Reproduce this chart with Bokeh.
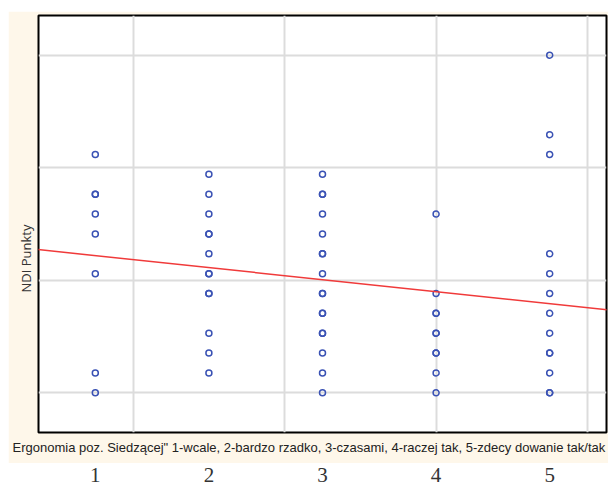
from bokeh.plotting import figure
from bokeh.layouts import column
from bokeh.models import FixedTicker, Slope, Range1d, ColumnDataSource, Title
from bokeh.core.properties import value
from bokeh.embed import file_html
from bokeh.resources import INLINE

# ---- data ----
categories = [1, 2, 3, 4, 5]
tick_labels = ["1", "2", "3", "4", "5"]
ndi_cat1 = [12, 10, 10, 9, 8, 6, 1, 0]
ndi_cat2 = [11, 10, 9, 8, 8, 7, 6, 6, 5, 5, 3, 2, 1]
ndi_cat3 = [11, 10, 10, 9, 8, 7, 7, 6, 5, 5, 4, 4, 3, 3, 2, 1, 0]
ndi_cat4 = [9, 5, 4, 4, 3, 3, 2, 2, 1, 0]
ndi_cat5 = [17, 13, 12, 7, 6, 5, 4, 3, 2, 2, 1, 0, 0]
trend_intercept = 7.51
trend_slope = -0.604
x_grid_values = [4 / 3, 8 / 3, 4, 16 / 3]
y_grid_values = [0, 17 / 3, 34 / 3, 17]
x_title = 'Ergonomia poz. Siedzącej" 1-wcale, 2-bardzo rzadko, 3-czasami, 4-raczej tak, 5-zdecy dowanie tak/tak'
y_title = "NDI Punkty"

xs, ys = [], []
for c, vals in zip(categories, [ndi_cat1, ndi_cat2, ndi_cat3, ndi_cat4, ndi_cat5]):
    xs += [c] * len(vals)
    ys += vals
src = ColumnDataSource(dict(x=xs, y=ys))

CREAM = "#fef7ea"

p = figure(width=600, height=452, x_range=Range1d(0.5, 5.5), y_range=Range1d(-2, 19),
           output_backend="svg", toolbar_location=None,
           x_axis_location=None, y_axis_location=None,
           min_border_left=30, min_border_right=2, min_border_top=4, min_border_bottom=31)
p.border_fill_color = CREAM
p.background_fill_color = "white"
p.outline_line_color = "black"
p.outline_line_width = 2

p.xgrid.ticker = FixedTicker(ticks=x_grid_values)
p.ygrid.ticker = FixedTicker(ticks=y_grid_values)
p.grid.grid_line_color = "#dcdcdc"
p.grid.grid_line_width = 2

p.add_layout(Title(text=x_title, text_font="Liberation Sans", text_font_size="13px",
                   text_font_style="normal", text_color="#222222",
                   align="left", offset=-26, standoff=10), "below")
p.add_layout(Title(text=y_title, text_font="Open Sans", text_font_size="13px",
                   text_font_style="normal", text_color="#333333",
                   align="left", offset=140, standoff=7), "left")

p.scatter("x", "y", source=src, marker="circle", size=6, fill_color=None,
          line_color="#3a52b4", line_width=1.5)
p.add_layout(Slope(gradient=trend_slope, y_intercept=trend_intercept,
                   line_color="#f03a3a", line_width=1.5))

# tick labels row (white background)
p2 = figure(width=600, height=23, x_range=p.x_range, y_range=Range1d(0, 1),
            output_backend="svg", toolbar_location=None,
            x_axis_location=None, y_axis_location=None,
            min_border_left=30, min_border_right=2, min_border_top=0, min_border_bottom=0)
p2.outline_line_color = None
p2.grid.visible = False
p2.text(x=categories, y=[0.5] * len(categories), text=tick_labels,
        text_font=value("Liberation Serif"), text_font_size="21px",
        text_color="#333333", text_align="center", text_baseline="middle")

layout = column(p, p2, spacing=0, margin=(11, 0, 0, 8))
open("out.html", "w").write(file_html(layout, INLINE))
